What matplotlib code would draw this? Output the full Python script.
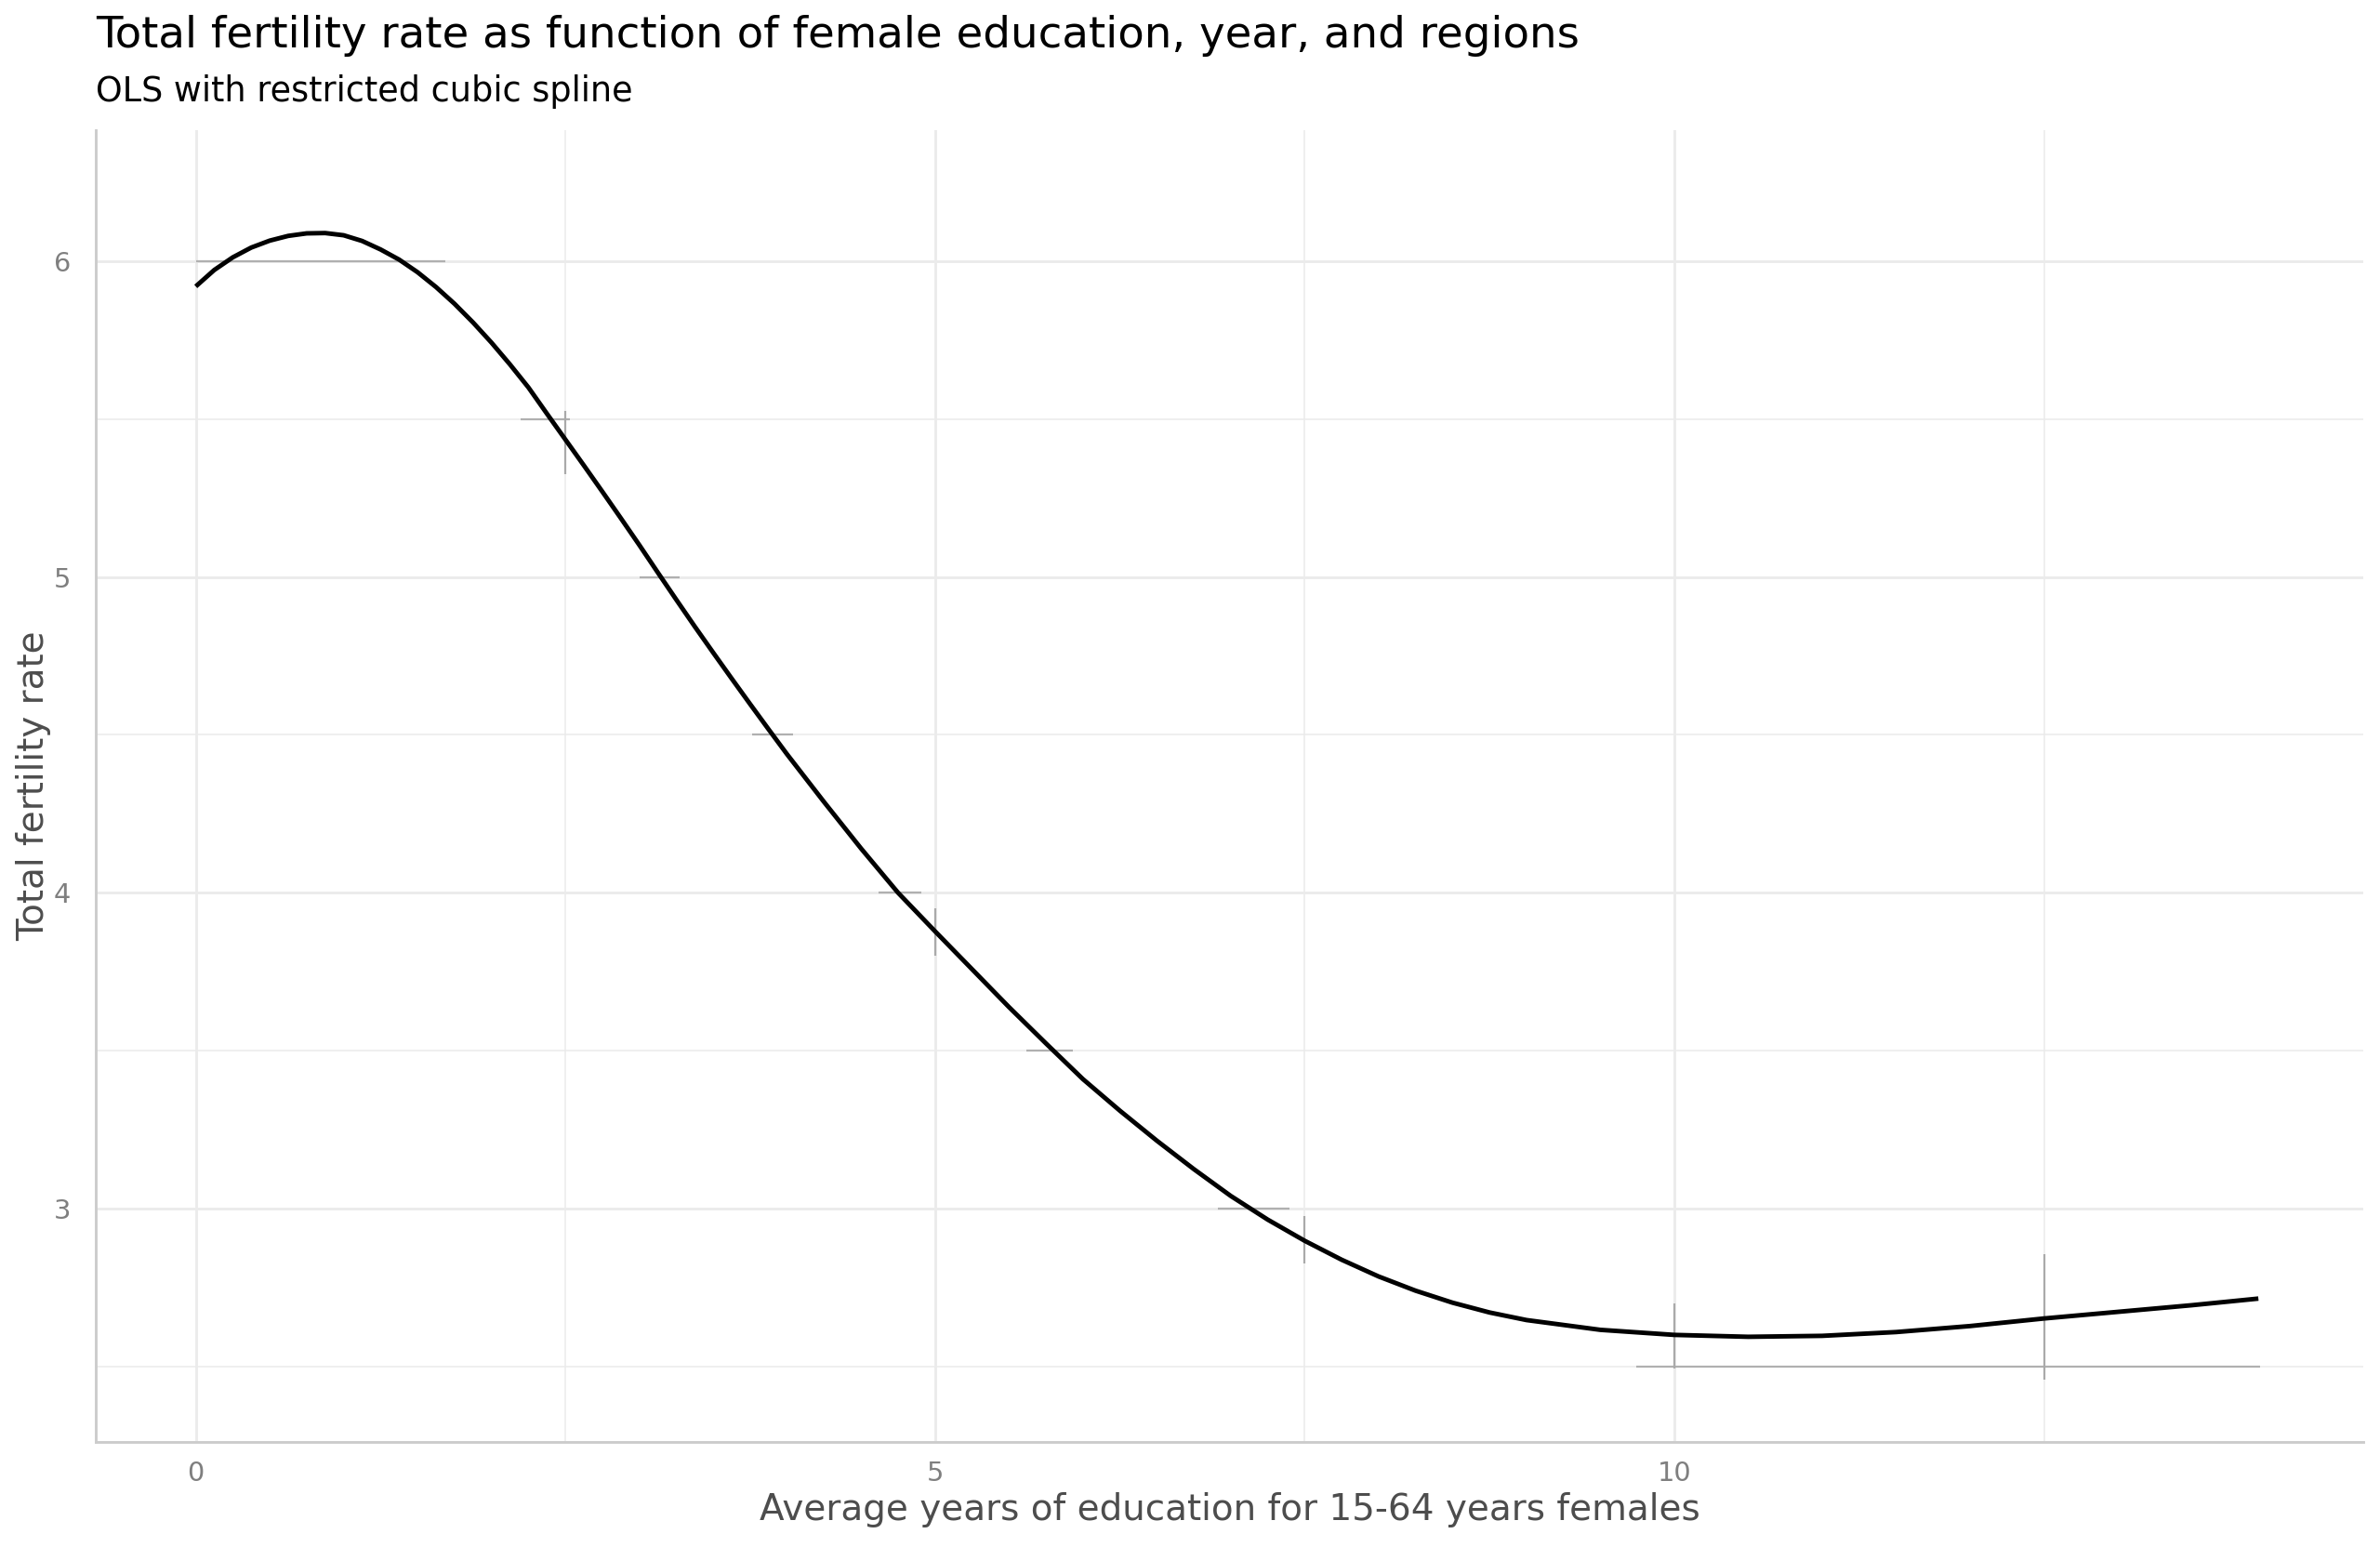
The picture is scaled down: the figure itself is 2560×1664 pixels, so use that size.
import numpy as np
from matplotlib import pyplot as plt

# fitted curve
edu_years = [0.0, 0.125, 0.25, 0.375, 0.5, 0.625, 0.75, 0.875, 1.0, 1.125, 1.25,
             1.375, 1.5, 1.625, 1.75, 1.875, 2.0, 2.125, 2.25, 2.375, 2.5, 2.625,
             2.75, 2.875, 3.0, 3.125, 3.25, 3.375, 3.5, 3.625, 3.75, 3.875, 4.0,
             4.25, 4.5, 4.75, 5.0, 5.25, 5.5, 5.75, 6.0, 6.25, 6.5, 6.75, 7.0,
             7.25, 7.5, 7.75, 8.0, 8.25, 8.5, 8.75, 9.0, 9.5, 10.0, 10.5, 11.0,
             11.5, 12.0, 12.5, 13.0, 13.5, 13.95]
tfr = [5.920, 5.972, 6.012, 6.043, 6.065, 6.080, 6.088, 6.089, 6.082, 6.064, 6.037,
       6.005, 5.965, 5.918, 5.865, 5.806, 5.742, 5.673, 5.600, 5.517, 5.435, 5.353,
       5.270, 5.186, 5.101, 5.014, 4.928, 4.843, 4.760, 4.678, 4.597, 4.517, 4.438,
       4.287, 4.140, 4.000, 3.878, 3.758, 3.638, 3.523, 3.410, 3.310, 3.215, 3.125, 3.040,
       2.965, 2.898, 2.838, 2.785, 2.740, 2.702, 2.671, 2.647, 2.616, 2.600, 2.594, 2.597,
       2.609, 2.628, 2.652, 2.673, 2.694, 2.715]

# grey horizontal segments (y, x start, x end)
hseg_y = [6.0, 5.5, 5.0, 4.5, 4.0, 3.5, 3.0, 2.5]
hseg_x0 = [0.0, 2.2, 3.0, 3.76, 4.62, 5.62, 6.91, 9.74]
hseg_x1 = [1.69, 2.53, 3.27, 4.04, 4.91, 5.93, 7.40, 13.96]

# grey vertical segments (x, y start, y end)
vseg_x = [2.5, 5.0, 7.5, 10.0, 12.5]
vseg_y0 = [5.326, 3.80, 2.826, 2.494, 2.458]
vseg_y1 = [5.526, 3.95, 2.976, 2.70, 2.856]

x_ticks = [0, 5, 10]
x_minor = [2.5, 7.5, 12.5]
y_ticks = [3, 4, 5, 6]
y_minor = [2.5, 3.5, 4.5, 5.5]

fig = plt.figure(figsize=(16, 10.4), dpi=160)
ax = fig.add_axes([0.0402, 0.0679, 0.9528, 0.848])

grid_col = '#ebebeb'
for v in x_ticks:
    ax.axvline(v, color=grid_col, lw=1.3, zorder=0)
for v in x_minor:
    ax.axvline(v, color=grid_col, lw=0.7, zorder=0)
for v in y_ticks:
    ax.axhline(v, color=grid_col, lw=1.3, zorder=0)
for v in y_minor:
    ax.axhline(v, color=grid_col, lw=0.7, zorder=0)

ax.hlines(hseg_y, hseg_x0, hseg_x1, color='#b0b0b0', lw=1.0, zorder=1)
ax.vlines(vseg_x, vseg_y0, vseg_y1, color='#aaaaaa', lw=1.0, zorder=1)

ax.plot(edu_years, tfr, color='black', lw=2.2, zorder=3,
        solid_capstyle='butt', solid_joinstyle='round')

ax.set_xlim(-0.677, 14.66)
ax.set_ylim(2.261, 6.415)
ax.set_xticks(x_ticks)
ax.set_yticks(y_ticks)
ax.tick_params(length=0, labelsize=13, labelcolor='#7f7f7f')
ax.tick_params(axis='x', pad=9)
ax.tick_params(axis='y', pad=12)

for s in ['top', 'right']:
    ax.spines[s].set_visible(False)
for s in ['left', 'bottom']:
    ax.spines[s].set_color('#cccccc')
    ax.spines[s].set_linewidth(1.3)

ax.set_xlabel('Average years of education for 15-64 years females',
              fontsize=17.5, color='#4d4d4d', va='center')
ax.xaxis.set_label_coords(0.5, -0.052)
ax.set_ylabel('Total fertility rate', fontsize=17.5, color='#4d4d4d', va='center')
ax.yaxis.set_label_coords(-0.0275, 0.5)

fig.text(0.0402, 0.9766, 'Total fertility rate as function of female education, year, and regions',
         fontsize=21, va='center', ha='left', color='black')
fig.text(0.0402, 0.941, 'OLS with restricted cubic spline',
         fontsize=16.5, va='center', ha='left', color='black')

fig.savefig('out.png', dpi=160)
